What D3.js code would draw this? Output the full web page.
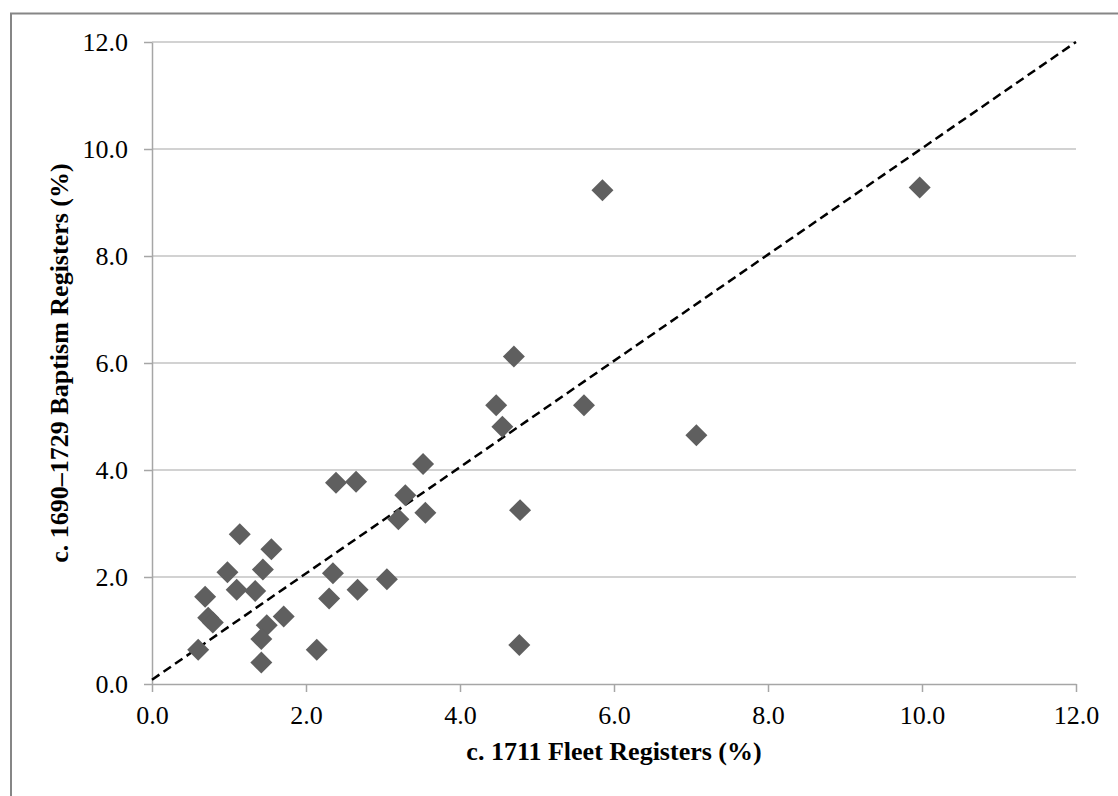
<!DOCTYPE html>
<html><head><meta charset="utf-8">
<script src="https://cdn.jsdelivr.net/npm/d3@7"></script>
<style>html,body{margin:0;padding:0;background:#fff;overflow:hidden}</style>
</head><body>
<svg id="c" width="1118" height="796"></svg>
<script>
const fleetX = [5.85,9.97,4.70,4.47,5.61,4.55,7.07,3.52,2.39,2.65,3.29,3.20,3.55,4.78,1.14,1.55,0.98,1.44,2.35,3.05,1.10,1.34,0.69,2.30,2.67,0.73,0.79,1.71,1.49,1.42,0.60,1.42,2.14,4.77];
const baptismY = [9.23,9.28,6.12,5.21,5.21,4.81,4.65,4.11,3.76,3.78,3.53,3.08,3.20,3.25,2.80,2.52,2.09,2.14,2.07,1.96,1.76,1.74,1.63,1.60,1.76,1.24,1.15,1.26,1.10,0.84,0.64,0.40,0.64,0.73];
const lineX = [0, 12];
const lineY = [0.08, 12.0];
const ticks = [0,2,4,6,8,10,12];
const xTitle = "c. 1711 Fleet Registers (%)";
const yTitle = "c. 1690–1729 Baptism Registers (%)";

const svg = d3.select("#c");
const L=152,R=1076,T=42,B=684;
const x = d3.scaleLinear().domain([0,12]).range([L,R]);
const y = d3.scaleLinear().domain([0,12]).range([B,T]);

svg.append("rect").attr("x",11).attr("y",13.5).attr("width",1200).attr("height",900)
  .attr("fill","none").attr("stroke","#868686").attr("stroke-width",2);

// gridlines
svg.append("g").selectAll("line").data(ticks.filter(d=>d>0)).join("line")
  .attr("x1",L).attr("x2",R).attr("y1",d=>y(d)).attr("y2",d=>y(d))
  .attr("stroke","#a6a6a6").attr("stroke-width",1.2);

const font = "'Liberation Serif','Times New Roman',serif";
// axes
const gx = svg.append("g").attr("transform",`translate(0,${B})`)
  .call(d3.axisBottom(x).tickValues(ticks).tickFormat(d3.format(".1f")).tickSizeInner(8).tickSizeOuter(0).tickPadding(14));
const gy = svg.append("g").attr("transform",`translate(${L},0)`)
  .call(d3.axisLeft(y).tickValues(ticks).tickFormat(d3.format(".1f")).tickSizeInner(8).tickSizeOuter(0).tickPadding(16));
[gx,gy].forEach(g=>{
  g.select(".domain").attr("stroke","#a6a6a6").attr("stroke-width",1.5);
  g.selectAll(".tick line").attr("stroke","#a6a6a6").attr("stroke-width",1.5);
  g.selectAll(".tick text").attr("fill","#000").style("font-family",font).style("font-size","26px");
});
gx.selectAll(".tick text").attr("dy","0.71em");
gy.selectAll(".tick text").attr("dy","0.34em");

// dashed line
svg.append("line").attr("x1",x(lineX[0])).attr("y1",y(lineY[0])).attr("x2",x(lineX[1])).attr("y2",y(lineY[1]))
  .attr("stroke","#000").attr("stroke-width",2.5).attr("stroke-dasharray","9,5");

// points
const data = fleetX.map((v,i)=>({x:v,y:baptismY[i]}));
const sym = d3.symbol().type(d3.symbolSquare).size(242);
svg.append("g").selectAll("path").data(data).join("path")
  .attr("d",sym).attr("transform",d=>`translate(${x(d.x)},${y(d.y)}) rotate(45)`)
  .attr("fill","#5f5f5f");

// titles
svg.append("text").attr("x",(L+R)/2).attr("y",760).attr("text-anchor","middle")
  .style("font-family",font).style("font-size","26px").style("font-weight","bold").text(xTitle);
svg.append("text").attr("transform",`translate(68,${(T+B)/2}) rotate(-90)`).attr("text-anchor","middle")
  .style("font-family",font).style("font-size","26px").style("font-weight","bold").text(yTitle);
</script>
</body></html>
